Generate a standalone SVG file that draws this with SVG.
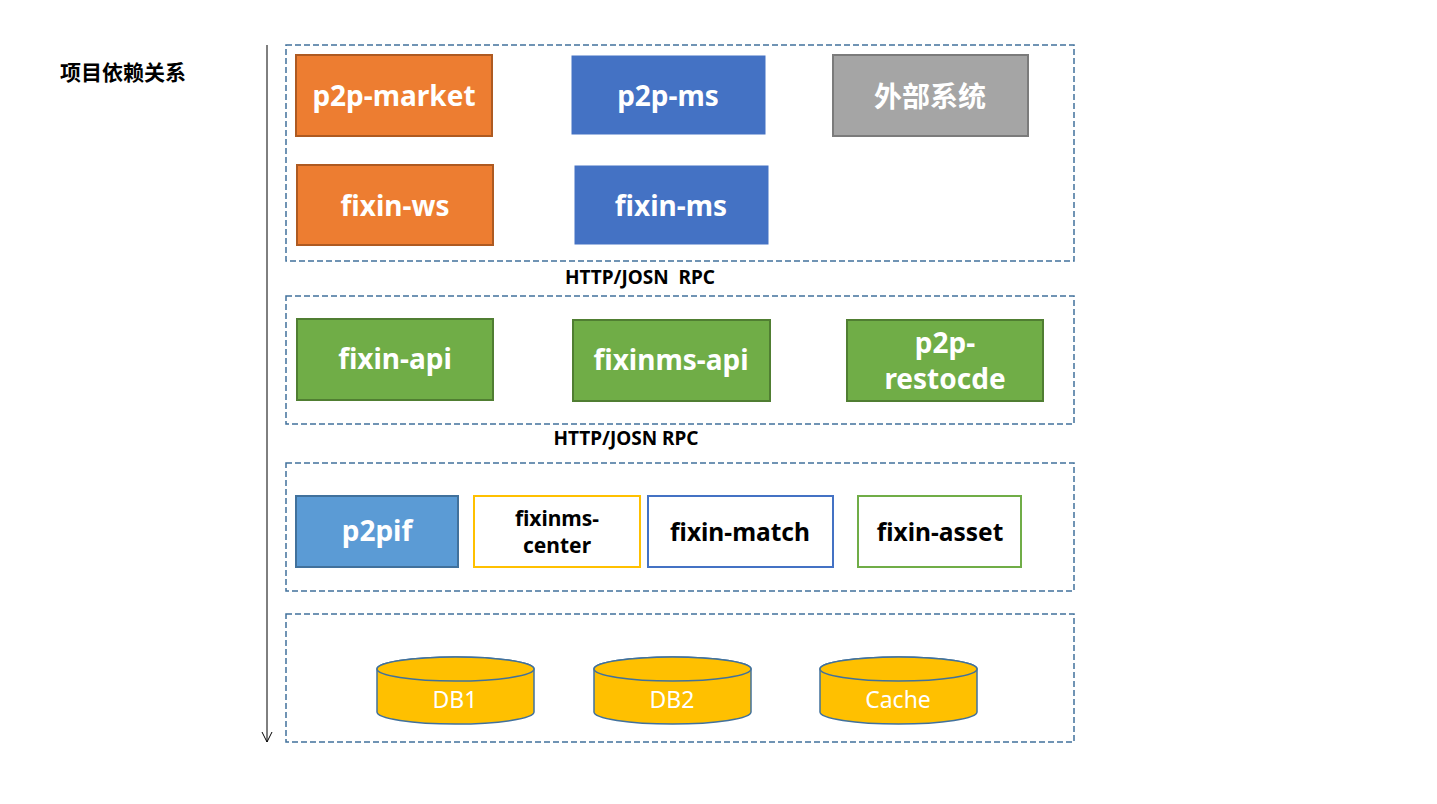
<svg xmlns="http://www.w3.org/2000/svg" width="1437" height="804" viewBox="0 0 1437 804">
<defs>
<style>
.frame{fill:none;stroke:#41719C;stroke-width:1.5;stroke-dasharray:6,3}
.lbl{font-family:"Noto Sans","Open Sans","Liberation Sans",sans-serif;font-weight:bold;font-size:28px;fill:#fff;text-anchor:middle;dominant-baseline:central}
.lblk{font-family:"Noto Sans","Open Sans","Liberation Sans",sans-serif;font-weight:bold;font-size:24.5px;fill:#000;text-anchor:middle;dominant-baseline:central}
.lbls{font-family:"Noto Sans","Open Sans","Liberation Sans",sans-serif;font-weight:bold;font-size:21px;fill:#000;text-anchor:middle;dominant-baseline:central}
.cap{font-family:"Noto Sans","Liberation Sans",sans-serif;font-weight:bold;font-size:19px;fill:#000;text-anchor:middle;dominant-baseline:central;white-space:pre}
.cjk{font-family:"Noto Sans CJK SC",sans-serif;font-weight:bold}
.dbt{font-family:"Noto Sans","Liberation Sans",sans-serif;font-size:23px;fill:#fff;text-anchor:middle;dominant-baseline:central}
.orange{fill:#ED7D31;stroke:#AE5A21;stroke-width:2}
.blue{fill:#4472C4;stroke:#4472C4;stroke-width:1}
.gray{fill:#A5A5A5;stroke:#7B7B7B;stroke-width:2}
.green{fill:#70AD47;stroke:#507E32;stroke-width:2}
.lblue{fill:#5B9BD5;stroke:#41719C;stroke-width:2}
.cyl{fill:#FFC000;stroke:#41719C;stroke-width:1.5}
</style>
<marker id="arr" markerWidth="12" markerHeight="12" refX="11" refY="6" orient="auto" markerUnits="userSpaceOnUse">
<path d="M1,1 L11,6 L1,11" fill="none" stroke="#000" stroke-width="1"/>
</marker>
</defs>
<rect width="1437" height="804" fill="#fff"/>
<text x="123" y="71" class="cjk" font-size="21" text-anchor="middle" dominant-baseline="central" fill="#000">项目依赖关系</text>
<g id="connectors">
<line x1="267" y1="45" x2="267" y2="742" stroke="#000" stroke-width="1" marker-end="url(#arr)"/>
</g>
<g id="frames">
<rect class="frame" x="286" y="45" width="788" height="216"/>
<rect class="frame" x="286" y="296" width="788" height="128"/>
<rect class="frame" x="286" y="463" width="788" height="128"/>
<rect class="frame" x="286" y="614" width="788" height="128"/>
</g>
<text class="cap" x="640" y="277" xml:space="preserve">HTTP/JOSN  RPC</text>
<text class="cap" x="626" y="438">HTTP/JOSN RPC</text>
<g id="p2p-market"><rect class="orange" x="296" y="55" width="196" height="81"/><text class="lbl" x="394" y="95">p2p-market</text></g>
<g id="p2p-ms"><rect class="blue" x="572" y="56" width="193" height="78"/><text class="lbl" x="668" y="95">p2p-ms</text></g>
<g id="external"><rect class="gray" x="833" y="55" width="195" height="81"/><text class="lbl cjk" x="930" y="95" font-size="27">外部系统</text></g>
<g id="fixin-ws"><rect class="orange" x="297" y="165" width="196" height="80"/><text class="lbl" x="395" y="205">fixin-ws</text></g>
<g id="fixin-ms"><rect class="blue" x="575" y="166" width="193" height="78"/><text class="lbl" x="671" y="205">fixin-ms</text></g>
<g id="fixin-api"><rect class="green" x="297" y="319" width="196" height="81"/><text class="lbl" x="395" y="358">fixin-api</text></g>
<g id="fixinms-api"><rect class="green" x="573" y="320" width="197" height="81"/><text class="lbl" x="671" y="359">fixinms-api</text></g>
<g id="p2p-restocde"><rect class="green" x="847" y="320" width="196" height="81"/><text class="lbl" x="945" y="342" font-size="27">p2p-</text><text class="lbl" x="945" y="378" font-size="27">restocde</text></g>
<g id="p2pif"><rect class="lblue" x="296" y="496" width="162" height="71"/><text class="lbl" x="377" y="530">p2pif</text></g>
<g id="fixinms-center"><rect x="474" y="496" width="166" height="71" fill="#fff" stroke="#FFC000" stroke-width="2"/><text class="lbls" x="557" y="518">fixinms-</text><text class="lbls" x="557" y="545">center</text></g>
<g id="fixin-match"><rect x="648" y="496" width="185" height="71" fill="#fff" stroke="#4472C4" stroke-width="2"/><text class="lblk" x="740" y="531">fixin-match</text></g>
<g id="fixin-asset"><rect x="858" y="496" width="163" height="71" fill="#fff" stroke="#70AD47" stroke-width="2"/><text class="lblk" x="940" y="531">fixin-asset</text></g>
<g id="DB1"><path class="cyl" d="M377,669 L377,712 A78.5,12 0 0 0 534,712 L534,669 A78.5,12 0 0 0 377,669 Z"/><ellipse class="cyl" cx="455.5" cy="669" rx="78.5" ry="12"/><text class="dbt" x="455" y="699">DB1</text></g>
<g id="DB2"><path class="cyl" d="M594,669 L594,712 A78.5,12 0 0 0 751,712 L751,669 A78.5,12 0 0 0 594,669 Z"/><ellipse class="cyl" cx="672.5" cy="669" rx="78.5" ry="12"/><text class="dbt" x="672" y="699">DB2</text></g>
<g id="Cache"><path class="cyl" d="M820,669 L820,712 A78.5,12 0 0 0 977,712 L977,669 A78.5,12 0 0 0 820,669 Z"/><ellipse class="cyl" cx="898.5" cy="669" rx="78.5" ry="12"/><text class="dbt" x="898" y="699">Cache</text></g>
</svg>
